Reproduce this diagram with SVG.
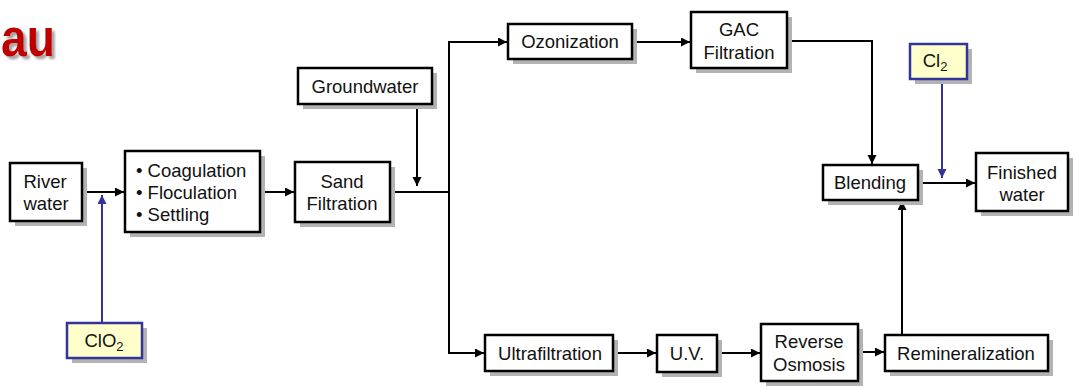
<svg xmlns="http://www.w3.org/2000/svg" width="1077" height="389" viewBox="0 0 1077 389">
<style>
.box{fill:#fff;stroke:#000;stroke-width:2.5}
.chem{fill:#ffffcc;stroke:#333399;stroke-width:2.5}
.sh{fill:#b3b3b3}
.t{font-family:"Liberation Sans",Arial,sans-serif;font-size:18.5px;fill:#111;text-anchor:middle}
.tl{font-family:"Liberation Sans",Arial,sans-serif;font-size:18.5px;fill:#111}
.c{fill:none;stroke:#000;stroke-width:2}
.cb{fill:none;stroke:#333399;stroke-width:2}
.title{font-family:"Liberation Sans",Arial,sans-serif;font-weight:bold;font-size:54px;fill:#c00000}
</style>
<defs>
<filter id="shadow" x="-20%" y="-20%" width="150%" height="150%">
<feDropShadow dx="3" dy="3" stdDeviation="1" flood-color="#808080" flood-opacity="0.7"/>
</filter>
<marker id="ah" markerUnits="userSpaceOnUse" markerWidth="10" markerHeight="10" refX="9" refY="4.5" orient="auto">
<path d="M0,0 L9,4.5 L0,9 z" fill="#000"/>
</marker>
<marker id="ahb" markerUnits="userSpaceOnUse" markerWidth="10" markerHeight="10" refX="9" refY="4.5" orient="auto">
<path d="M0,0 L9,4.5 L0,9 z" fill="#333399"/>
</marker>
</defs>
<g id="title">
<text class="title" x="1" y="56" textLength="54" lengthAdjust="spacingAndGlyphs" filter="url(#shadow)">au</text>
</g>
<g id="connectors">
<path class="c" d="M82,192 H124" marker-end="url(#ah)"/>
<path class="cb" d="M102,323 V195" marker-end="url(#ahb)"/>
<path class="c" d="M260,192 H294" marker-end="url(#ah)"/>
<path class="c" d="M390,192 H449"/>
<path class="c" d="M417,104 V186" marker-end="url(#ah)"/>
<path class="c" d="M449,192 V42 H507" marker-end="url(#ah)"/>
<path class="c" d="M449,192 V353 H484" marker-end="url(#ah)"/>
<path class="c" d="M632,42 H690" marker-end="url(#ah)"/>
<path class="c" d="M787,41 H872 V164" marker-end="url(#ah)"/>
<path class="cb" d="M942,79 V178" marker-end="url(#ahb)"/>
<path class="c" d="M918,183 H975" marker-end="url(#ah)"/>
<path class="c" d="M613,353 H656" marker-end="url(#ah)"/>
<path class="c" d="M717,353 H760" marker-end="url(#ah)"/>
<path class="c" d="M858,352 H884" marker-end="url(#ah)"/>
<path class="c" d="M902,335 V201" marker-end="url(#ah)"/>
</g>
<g id="river">
<rect class="sh" x="15" y="168" width="72" height="58"/>
<rect class="box" x="10" y="163" width="72" height="58"/>
<text class="t" x="45" y="188">River</text>
<text class="t" x="46" y="210">water</text>
</g>
<g id="coag">
<rect class="sh" x="130" y="156" width="135" height="81"/>
<rect class="box" x="125" y="151" width="135" height="81"/>
<text class="tl" x="136" y="177">• Coagulation</text>
<text class="tl" x="136" y="199">• Floculation</text>
<text class="tl" x="136" y="221">• Settling</text>
</g>
<g id="clo2">
<rect class="sh" x="72" y="328" width="75" height="35"/>
<rect class="chem" x="67" y="323" width="75" height="35"/>
<text class="t" x="104" y="347">ClO<tspan font-size="13" dy="4">2</tspan></text>
</g>
<g id="sand">
<rect class="sh" x="300" y="167" width="95" height="60"/>
<rect class="box" x="295" y="162" width="95" height="60"/>
<text class="t" x="342" y="188">Sand</text>
<text class="t" x="342" y="210">Filtration</text>
</g>
<g id="groundwater">
<rect class="sh" x="303" y="73" width="134" height="36"/>
<rect class="box" x="298" y="68" width="134" height="36"/>
<text class="t" x="365" y="93">Groundwater</text>
</g>
<g id="ozonization">
<rect class="sh" x="513" y="29" width="124" height="35"/>
<rect class="box" x="508" y="24" width="124" height="35"/>
<text class="t" x="570" y="48">Ozonization</text>
</g>
<g id="gac">
<rect class="sh" x="696" y="17" width="96" height="56"/>
<rect class="box" x="691" y="12" width="96" height="56"/>
<text class="t" x="739" y="36">GAC</text>
<text class="t" x="739" y="59">Filtration</text>
</g>
<g id="cl2">
<rect class="sh" x="915" y="49" width="57" height="35"/>
<rect class="chem" x="910" y="44" width="57" height="35"/>
<text class="t" x="935" y="67">Cl<tspan font-size="13" dy="4">2</tspan></text>
</g>
<g id="blending">
<rect class="sh" x="828" y="170" width="95" height="35"/>
<rect class="box" x="823" y="165" width="95" height="35"/>
<text class="t" x="870" y="189">Blending</text>
</g>
<g id="finished">
<rect class="sh" x="981" y="158" width="92" height="58"/>
<rect class="box" x="976" y="153" width="92" height="58"/>
<text class="t" x="1022" y="179">Finished</text>
<text class="t" x="1022" y="201">water</text>
</g>
<g id="ultra">
<rect class="sh" x="490" y="340" width="128" height="36"/>
<rect class="box" x="485" y="335" width="128" height="36"/>
<text class="t" x="550" y="360">Ultrafiltration</text>
</g>
<g id="uv">
<rect class="sh" x="662" y="340" width="60" height="37"/>
<rect class="box" x="657" y="335" width="60" height="37"/>
<text class="t" x="687" y="360">U.V.</text>
</g>
<g id="ro">
<rect class="sh" x="766" y="329" width="97" height="57"/>
<rect class="box" x="761" y="324" width="97" height="57"/>
<text class="t" x="809" y="348">Reverse</text>
<text class="t" x="809" y="371">Osmosis</text>
</g>
<g id="remin">
<rect class="sh" x="890" y="340" width="163" height="36"/>
<rect class="box" x="885" y="335" width="163" height="36"/>
<text class="t" x="966" y="360">Remineralization</text>
</g>
</svg>
